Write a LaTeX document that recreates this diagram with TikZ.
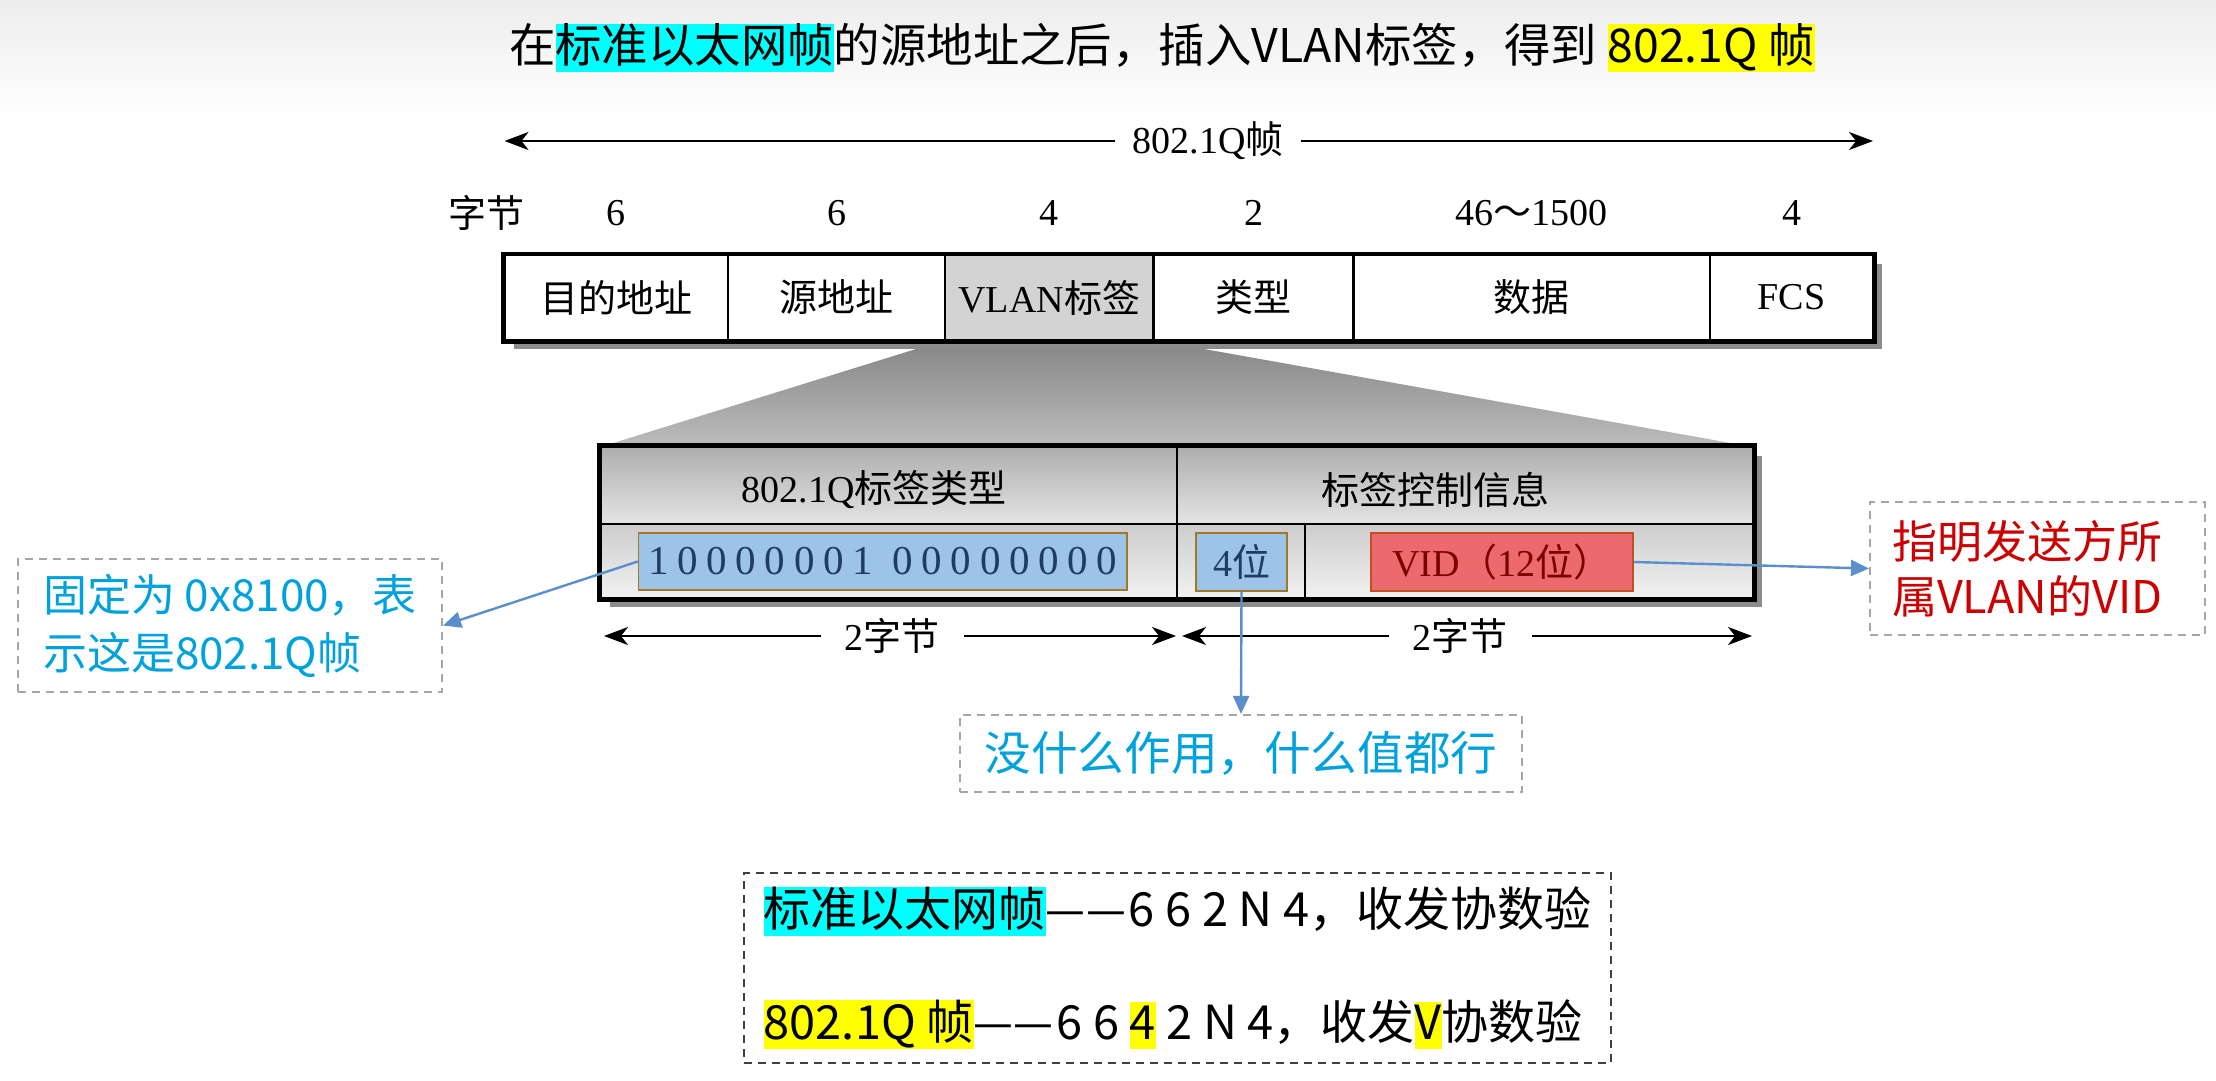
\documentclass[tikz,border=0pt]{standalone}
\usepackage{fontspec}
\setmainfont{Liberation Serif}
\newfontfamily\cjkf{Noto Sans CJK SC}
\usetikzlibrary{arrows.meta}
\newcommand\zh[1]{{\cjkf #1}}
\newcommand\diagfont{\fontsize{19}{23}\selectfont}
\newcommand\hlbox[2]{{\setlength{\fboxsep}{0pt}\colorbox{#1}{\rule[-0.2em]{0pt}{1.0em}#2}}}
\newcommand\bitgap{\hspace{4.3pt}}
\newcommand\dashpair{\scalebox{0.95}[1]{—}\hspace{0.01em}\scalebox{0.95}[1]{—}\hspace{0.06em}}
\definecolor{hlcyan}{HTML}{00FFFF}
\definecolor{hlyellow}{HTML}{FFFF00}
\definecolor{noteblue}{HTML}{00A2DE}
\definecolor{notered}{HTML}{CC0000}
\definecolor{linkblue}{HTML}{5B8FCB}
\definecolor{dashgray}{HTML}{A6A6A6}
\definecolor{sumgray}{HTML}{404040}
\definecolor{bitsfill}{HTML}{9DC3E6}
\definecolor{bitsdraw}{HTML}{A0782A}
\definecolor{bitstext}{HTML}{1F3C63}
\definecolor{vidfill}{HTML}{EC6A6E}
\definecolor{viddraw}{HTML}{C0501E}
\definecolor{vidtext}{HTML}{7A0000}
\definecolor{vlancell}{HTML}{D3D3D3}
\definecolor{shadowgray}{HTML}{8C8C8C}
\definecolor{traptop}{HTML}{858585}
\definecolor{trapbot}{HTML}{BDBDBD}
\definecolor{hdrtop}{HTML}{AEAEAE}
\definecolor{hdrbot}{HTML}{E4E4E4}
\definecolor{rowtop}{HTML}{CDCDCD}
\definecolor{rowbot}{HTML}{F2F2F2}
\begin{document}
\begin{tikzpicture}[x=0.5pt,y=-0.5pt,
  dimarrow/.style={line width=1.1pt,{Stealth[length=12pt,width=9pt,inset=3.5pt]}-{Stealth[length=12pt,width=9pt,inset=3.5pt]}},
  dimlabel/.style={fill=white,inner xsep=12pt,inner ysep=0pt,font=\diagfont},
  numlabel/.style={inner sep=0pt,font=\diagfont},
  framecell/.style={draw,fill=white,line width=1.3pt,minimum height=42.5pt,inner sep=0pt,font=\diagfont},
  hdrcell/.style={draw,line width=1.2pt,top color=hdrtop,bottom color=hdrbot,minimum height=38.5pt,inner sep=0pt},
  rowcell/.style={draw,line width=1.2pt,top color=rowtop,bottom color=rowbot,minimum height=37pt,inner sep=0pt},
  bitbox/.style={draw=bitsdraw,line width=0.7pt,fill=bitsfill,inner sep=0pt,font=\diagfont,text=bitstext},
  vidbox/.style={draw=viddraw,line width=0.7pt,fill=vidfill,inner sep=0pt,font=\diagfont,text=vidtext},
  callout/.style={draw=dashgray,line width=1.1pt,dash pattern=on 4pt off 3pt,inner sep=0pt},
  link/.style={draw=linkblue,line width=1.2pt,-{Triangle[length=9pt,width=8pt]}}
]
\fill[white] (0,0) rectangle (2216,1081);
\shade[top color=black!7,bottom color=white] (0,0) rectangle (2216,120);
\useasboundingbox (0,0) rectangle (2216,1081);

% zoom trapezoid
\coordinate (vlanBL) at (945,340);
\coordinate (vlanBR) at (1153.5,340);
\coordinate (subNW) at (600.5,447);
\coordinate (subNE) at (1753,447);
\shade[top color=traptop,bottom color=trapbot] (vlanBL) -- (vlanBR) -- (subNE) -- (subNW) -- cycle;

% title
\node[inner sep=0pt,font=\cjkf\fontsize{23.2}{29}\selectfont] (title) at (1162,48)
  {在\hlbox{hlcyan}{标准以太网帧}的源地址之后，插入VLAN标签，得到 \hlbox{hlyellow}{802.1Q 帧}};

% frame length arrow
\coordinate (frL) at (504.5,141);
\coordinate (frR) at (1873,141);
\draw[dimarrow] (frL) -- (frR);
\node[dimlabel,inner xsep=9pt] (frlabel) at (1208,141) {802.1Q\zh{帧}};

% byte counts
\node[numlabel] (bytes) at (486,213) {\zh{字节}};
\node[numlabel] (n1) at (616.25,213) {6};
\node[numlabel] (n2) at (836.5,213) {6};
\node[numlabel] (n3) at (1049.25,213) {4};
\node[numlabel] (n4) at (1253.5,213) {2};
\node[numlabel] (n5) at (1531.75,213) {46\zh{～}1500};
\node[numlabel] (n6) at (1791.5,213) {4};

% frame
\fill[shadowgray] (513.5,264) rectangle (1882,349);
\node[framecell,minimum width=111.75pt] (c1) at (616.25,297.5) {\zh{目的地址}};
\node[framecell,minimum width=108.5pt] (c2) at (836.5,297.5) {\zh{源地址}};
\node[framecell,minimum width=104.25pt,fill=vlancell] (c3) at (1049.25,297.5) {VLAN\zh{标签}};
\node[framecell,minimum width=100pt] (c4) at (1253.5,297.5) {\zh{类型}};
\node[framecell,minimum width=178.25pt] (c5) at (1531.75,297.5) {\zh{数据}};
\node[framecell,minimum width=81.5pt] (c6) at (1791.5,297.5) {FCS};
\draw[line width=2.2pt] (c1.north west) rectangle (c6.south east);

% tag detail box
\fill[shadowgray] (609.5,456) rectangle (1762,607);
\node[hdrcell,minimum width=288.25pt] (hdrL) at (888.75,485.5) {};
\node[hdrcell,minimum width=288pt] (hdrR) at (1465,485.5) {};
\node[rowcell,minimum width=288.25pt] (rowL) at (888.75,561) {};
\node[rowcell,minimum width=64pt] (row4) at (1241,561) {};
\node[rowcell,minimum width=224pt] (rowV) at (1529,561) {};
\draw[line width=2.4pt] (hdrL.north west) rectangle (rowV.south east);
\node[numlabel] (hdrLtext) at (874,490) {802.1Q\zh{标签类型}};
\node[numlabel] (hdrRtext) at (1435,490) {\zh{标签控制信息}};

\node[bitbox,minimum width=244.25pt,minimum height=28.5pt,font=\fontsize{20.5}{24}\selectfont] (bits) at (882.75,561.5)
  {1\bitgap0\bitgap0\bitgap0\bitgap0\bitgap0\bitgap0\bitgap1\hspace{10pt}0\bitgap0\bitgap0\bitgap0\bitgap0\bitgap0\bitgap0\bitgap0};
\node[bitbox,minimum width=45.5pt,minimum height=29pt] (four) at (1241.5,562) {4\zh{位}};
\node[vidbox,minimum width=131pt,minimum height=29pt] (vid) at (1502,562) {VID\zh{（}12\zh{位）}};

% 2-byte dimension arrows
\coordinate (dL1) at (604,636);
\coordinate (dL2) at (1176,636);
\coordinate (dR1) at (1182,636);
\coordinate (dR2) at (1752,636);
\draw[dimarrow] (dL1) -- (dL2);
\draw[dimarrow] (dR1) -- (dR2);
\node[dimlabel] (dLlabel) at (892,636) {2\zh{字节}};
\node[dimlabel] (dRlabel) at (1460,636) {2\zh{字节}};

% callouts
\node[callout,minimum width=212pt,minimum height=66.5pt,align=left,text=noteblue,
  font=\cjkf\fontsize{22}{29}\selectfont] (callL) at (230,625.5)
  {固定为 0x8100，表\\示这是802.1Q帧};
\node[callout,minimum width=167.5pt,minimum height=66.5pt,inner xsep=11pt,text width=145.5pt,align=left,text=notered,
  font=\cjkf\fontsize{22.5}{27.5}\selectfont] (callR) at (2037.5,568.5)
  {指明发送方所\\属VLAN的VID};
\node[callout,minimum width=281pt,minimum height=38.5pt,text=noteblue,
  font=\cjkf\fontsize{23.3}{28}\selectfont] (call4) at (1241,753.5)
  {没什么作用，什么值都行};

\draw[link] (bits.west) -- (callL.east);
\draw[link] (vid.east) -- (callR.west);
\draw[link] (four.south) -- (call4.north);

% summary box
\node[draw=sumgray,line width=1pt,dash pattern=on 4pt off 3pt,inner sep=0pt,
  minimum width=433.5pt,minimum height=95pt,align=left,
  font=\cjkf\fontsize{23.5}{56.5}\selectfont] (summary) at (1177.5,968)
  {\hlbox{hlcyan}{标准以太网帧}\dashpair 6 6 2 N 4，收发协数验\\\hlbox{hlyellow}{802.1Q 帧}\dashpair 6 6 \hlbox{hlyellow}{4} 2 N 4，收发\hlbox{hlyellow}{V}协数验};
\end{tikzpicture}
\end{document}
